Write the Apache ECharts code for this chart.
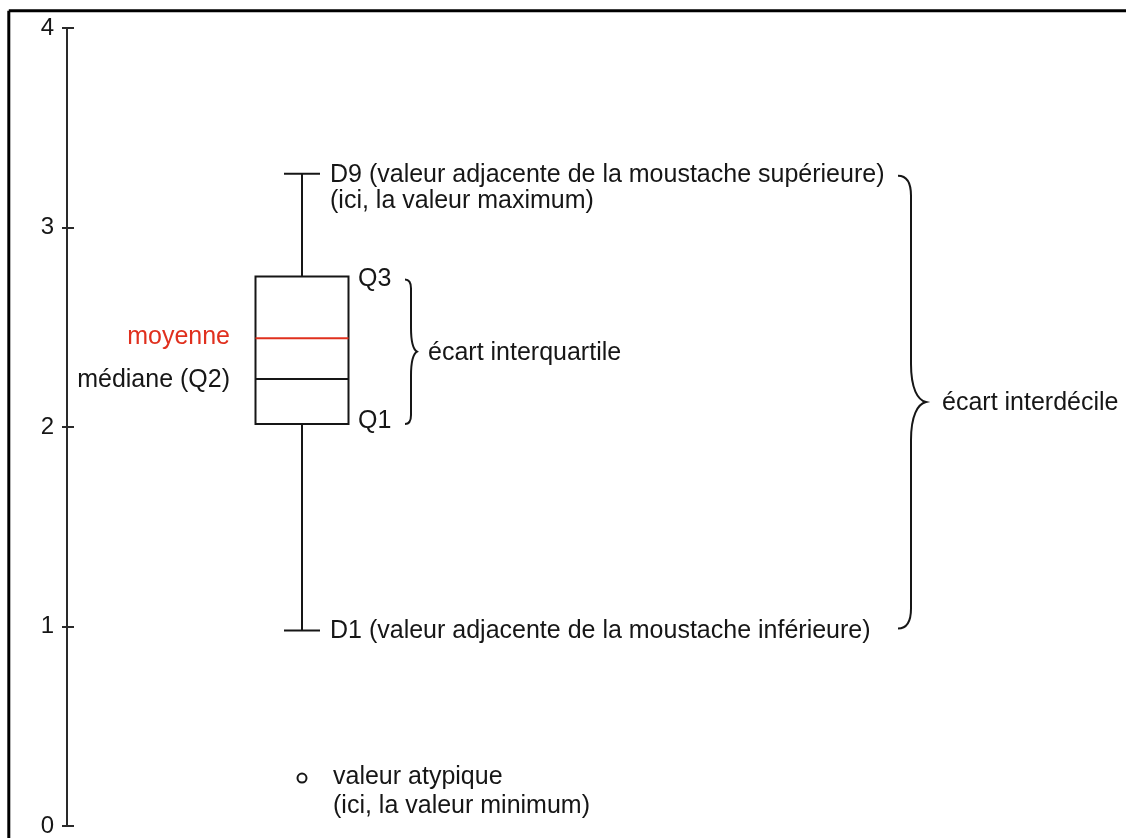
<!DOCTYPE html>
<html>
<head>
<meta charset="utf-8">
<script src="https://cdn.jsdelivr.net/npm/echarts@6/dist/echarts.min.js"></script>
<style>
html,body{margin:0;padding:0;background:#fff;}
#chart{width:1126px;height:838px;}
</style>
</head>
<body>
<div id="chart"></div>
<script>
// ---- data ----
const categories = ['distribution'];
const decile1 = [0.98];
const quartile1 = [2.015];
const medianValues = [2.24];
const meanValues = [2.445];
const quartile3 = [2.755];
const decile9 = [3.27];
const outlierValues = [0.24];
const yTickValues = [0, 1, 2, 3, 4];

// ---- annotation texts ----
const textD9 = ['D9 (valeur adjacente de la moustache supérieure)', '(ici, la valeur maximum)'];
const textD1 = 'D1 (valeur adjacente de la moustache inférieure)';
const textQ3 = 'Q3';
const textQ1 = 'Q1';
const textMean = 'moyenne';
const textMedian = 'médiane (Q2)';
const textIQR = 'écart interquartile';
const textIDR = 'écart interdécile';
const textOutlier = ['valeur atypique', '(ici, la valeur minimum)'];

const INK = '#161616';
const RED = '#e0301e';
const FONT = '"Liberation Sans", Arial, sans-serif';
const FS = 25;

function bracePath(x0, xv, xt, yT, yB, rEnd, rMid) {
  const ym = (yT + yB) / 2;
  return 'M' + x0 + ' ' + yT +
    ' Q' + xv + ' ' + yT + ' ' + xv + ' ' + (yT + rEnd) +
    ' L' + xv + ' ' + (ym - rMid) +
    ' C' + xv + ' ' + (ym - rMid * 0.35) + ' ' + (xv + (xt - xv) * 0.45) + ' ' + (ym - 2) + ' ' + xt + ' ' + ym +
    ' C' + (xv + (xt - xv) * 0.45) + ' ' + (ym + 2) + ' ' + xv + ' ' + (ym + rMid * 0.35) + ' ' + xv + ' ' + (ym + rMid) +
    ' L' + xv + ' ' + (yB - rEnd) +
    ' Q' + xv + ' ' + yB + ' ' + x0 + ' ' + yB;
}

function txt(x, y, s, align, color) {
  return {
    type: 'text',
    style: {
      x: x, y: y, text: s,
      fill: color || INK,
      font: FS + 'px ' + FONT,
      align: align || 'left',
      verticalAlign: 'middle'
    }
  };
}

const seriesData = categories.map((c, i) => [i, decile1[i], quartile1[i], medianValues[i], meanValues[i], quartile3[i], decile9[i], outlierValues[i]]);

function renderItem(params, api) {
  const i = api.value(0);
  const P = v => api.coord([i, v]);
  const cx = Math.round(P(0)[0]);
  const yD1 = P(api.value(1))[1];
  const yQ1 = P(api.value(2))[1];
  const yMed = P(api.value(3))[1];
  const yMean = P(api.value(4))[1];
  const yQ3 = P(api.value(5))[1];
  const yD9 = P(api.value(6))[1];
  const yOut = P(api.value(7))[1];
  const hw = 46.5, cap = 18;
  const ls = { stroke: INK, lineWidth: 2, fill: null };
  const children = [
    { type: 'line', shape: { x1: cx, y1: yD9, x2: cx, y2: yQ3 }, style: ls },
    { type: 'line', shape: { x1: cx - cap, y1: yD9, x2: cx + cap, y2: yD9 }, style: ls },
    { type: 'line', shape: { x1: cx, y1: yQ1, x2: cx, y2: yD1 }, style: ls },
    { type: 'line', shape: { x1: cx - cap, y1: yD1, x2: cx + cap, y2: yD1 }, style: ls },
    { type: 'rect', shape: { x: cx - hw, y: yQ3, width: 2 * hw, height: yQ1 - yQ3 }, style: { stroke: INK, lineWidth: 2, fill: 'rgba(0,0,0,0)' } },
    { type: 'line', shape: { x1: cx - hw, y1: yMean, x2: cx + hw, y2: yMean }, style: { stroke: RED, lineWidth: 2 } },
    { type: 'line', shape: { x1: cx - hw, y1: yMed, x2: cx + hw, y2: yMed }, style: ls },
    { type: 'circle', shape: { cx: cx, cy: yOut, r: 4.5 }, style: { stroke: INK, lineWidth: 2, fill: '#fff' } },
    { type: 'path', shape: { pathData: bracePath(cx + 103, cx + 109, cx + 115, yQ3 + 3, yQ1, 9, 24) }, style: ls },
    { type: 'path', shape: { pathData: bracePath(cx + 596, cx + 609, cx + 624, yD9 + 2, yD1 - 2, 20, 38) }, style: ls },
    txt(cx + 28, yD9 + 1, textD9[0]),
    txt(cx + 28, yD9 + 27, textD9[1]),
    txt(cx + 28, yD1 + 1, textD1),
    txt(cx + 56, yQ3 + 3, textQ3),
    txt(cx + 56, yQ1 - 3, textQ1),
    txt(cx - 72, yMean - 1, textMean, 'right', RED),
    txt(cx - 72, yMed + 1, textMedian, 'right'),
    txt(cx + 126, (yQ1 + yQ3) / 2 + 3, textIQR),
    txt(cx + 640, (yD1 + yD9) / 2 + 1, textIDR),
    txt(cx + 31, yOut - 1, textOutlier[0]),
    txt(cx + 31, yOut + 28, textOutlier[1])
  ];
  return { type: 'group', children: children };
}

const chart = echarts.init(document.getElementById('chart'), null, { renderer: 'canvas' });
const yMin = yTickValues[0], yMax = yTickValues[yTickValues.length - 1];
chart.setOption({
  animation: false,
  backgroundColor: '#fff',
  grid: { left: 67, top: 28, width: 470, bottom: 10, containLabel: false },
  xAxis: { type: 'category', data: categories, show: false },
  yAxis: [
    {
      type: 'value', min: yMin, max: yMax, interval: 1, position: 'left',
      axisLine: { show: true, lineStyle: { color: '#2a2a2a', width: 2 } },
      axisTick: { show: true, inside: false, length: 5, lineStyle: { color: '#2a2a2a', width: 2 } },
      axisLabel: { show: true, margin: 13, color: INK, fontSize: 24, fontFamily: FONT },
      splitLine: { show: false }
    },
    {
      type: 'value', min: yMin, max: yMax, interval: 1, position: 'left',
      axisLine: { show: false },
      axisTick: { show: true, inside: true, length: 7, lineStyle: { color: '#2a2a2a', width: 2 } },
      axisLabel: { show: false },
      splitLine: { show: false }
    }
  ],
  graphic: [
    { type: 'line', shape: { x1: 8.8, y1: 10.7, x2: 1126, y2: 10.7 }, style: { stroke: '#000', lineWidth: 3 } },
    { type: 'line', shape: { x1: 8.8, y1: 10.7, x2: 8.8, y2: 838 }, style: { stroke: '#000', lineWidth: 3 } }
  ],
  series: [
    {
      type: 'custom',
      renderItem: renderItem,
      clip: false,
      data: seriesData,
      encode: { x: 0, y: [1, 2, 3, 4, 5, 6, 7] }
    }
  ]
});
</script>
</body>
</html>
